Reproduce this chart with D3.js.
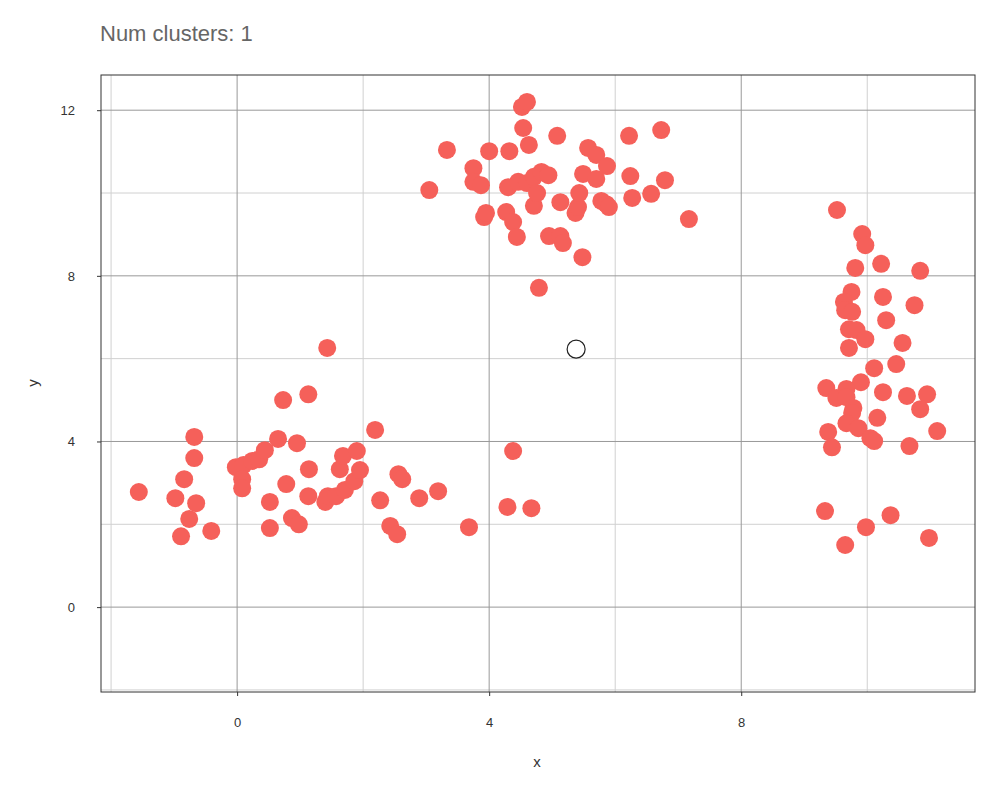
<!DOCTYPE html>
<html><head><meta charset="utf-8">
<script src="https://cdn.jsdelivr.net/npm/d3@7"></script>
<style>body{margin:0;background:#fff}</style>
</head><body>
<script>
var xs = [-1.56,-0.98,-0.84,-0.68,-0.68,-0.65,-0.76,-0.89,-0.41,-0.02,0.10,0.08,0.08,0.24,0.35,0.44,0.65,0.73,0.52,0.52,0.78,0.87,0.95,0.98,1.13,1.14,1.13,1.43,1.40,1.44,1.57,1.63,1.68,1.71,1.86,1.90,1.95,2.19,2.27,2.43,2.54,2.56,2.62,2.89,3.19,3.68,4.29,4.38,4.67,
 3.05,3.33,3.75,3.75,3.87,3.92,3.95,4.00,4.27,4.30,4.32,4.38,4.44,4.46,4.52,4.60,4.54,4.63,4.60,4.71,4.71,4.79,4.76,4.83,4.94,4.95,5.08,5.13,5.13,5.17,5.37,5.41,5.43,5.49,5.48,5.57,5.70,5.70,5.78,5.87,5.86,5.90,6.22,6.24,6.27,6.57,6.73,6.79,7.17,
 9.52,9.92,9.97,10.22,9.81,10.84,9.75,9.63,10.25,10.75,9.65,9.76,10.30,9.71,9.83,9.97,9.71,10.56,10.46,10.11,9.90,9.35,10.25,10.63,10.95,9.51,9.67,9.67,9.78,9.76,10.84,10.16,9.67,9.86,9.38,11.11,10.05,10.11,10.67,9.44,9.33,10.37,9.98,10.98,9.65];
var ys = [2.78,2.63,3.09,4.11,3.60,2.51,2.13,1.71,1.84,3.38,3.43,3.09,2.87,3.53,3.57,3.79,4.06,5.00,2.54,1.91,2.97,2.15,3.96,2.00,5.14,3.33,2.68,6.26,2.54,2.68,2.68,3.33,3.65,2.83,3.04,3.77,3.31,4.28,2.58,1.96,1.76,3.21,3.09,2.63,2.80,1.93,2.42,3.77,2.39,
 10.07,11.04,10.60,10.27,10.19,9.42,9.52,11.01,9.54,10.14,11.01,9.30,8.94,10.27,12.08,12.20,11.57,11.16,10.24,10.39,9.69,7.71,10.00,10.51,10.43,8.96,11.38,9.78,8.96,8.79,9.52,9.66,10.00,10.46,8.45,11.09,10.92,10.34,9.81,10.65,9.73,9.66,11.38,10.41,9.88,9.98,11.52,10.31,9.37,
 9.59,9.01,8.74,8.29,8.19,8.12,7.61,7.37,7.49,7.29,7.17,7.13,6.93,6.71,6.69,6.47,6.26,6.38,5.87,5.77,5.43,5.29,5.19,5.10,5.14,5.05,5.27,5.07,4.81,4.69,4.78,4.57,4.44,4.32,4.23,4.25,4.08,4.01,3.89,3.86,2.32,2.22,1.93,1.67,1.50];
var centerX = [5.38], centerY = [6.23];
var majorTicks = [0,4,8,12], minorX = [-2,2,6,10], minorY = [-2,2,6,10];

var svg = d3.select("body").append("svg").attr("width",1000).attr("height",800);
var L=101,R=975,T=75,B=692;
var x = d3.scaleLinear().domain([-2.16,11.71]).range([L,R]);
var y = d3.scaleLinear().domain([-2.05,12.85]).range([B,T]);

svg.append("text").attr("x",100).attr("y",41).text("Num clusters: 1")
  .attr("font-family","Liberation Sans, Arial, sans-serif").attr("font-size","22px").attr("fill","#666");

var g = svg.append("g");
g.selectAll(".mx").data(minorX).enter().append("line")
  .attr("x1",d=>x(d)).attr("x2",d=>x(d)).attr("y1",T).attr("y2",B).attr("stroke","#d0d0d0");
g.selectAll(".my").data(minorY).enter().append("line")
  .attr("y1",d=>y(d)).attr("y2",d=>y(d)).attr("x1",L).attr("x2",R).attr("stroke","#d0d0d0");
g.selectAll(".Mx").data(majorTicks.filter(d=>d<12)).enter().append("line")
  .attr("x1",d=>x(d)).attr("x2",d=>x(d)).attr("y1",T).attr("y2",B).attr("stroke","#999");
g.selectAll(".My").data(majorTicks).enter().append("line")
  .attr("y1",d=>y(d)).attr("y2",d=>y(d)).attr("x1",L).attr("x2",R).attr("stroke","#999");
g.append("rect").attr("x",L).attr("y",T).attr("width",R-L).attr("height",B-T)
  .attr("fill","none").attr("stroke","#333");

var xa = svg.append("g").attr("transform","translate(0,"+B+")")
  .call(d3.axisBottom(x).tickValues([0,4,8]).tickSize(4).tickPadding(22));
var ya = svg.append("g").attr("transform","translate("+L+",0)")
  .call(d3.axisLeft(y).tickValues(majorTicks).tickSize(4).tickPadding(22));
[xa,ya].forEach(a=>{a.select(".domain").remove();
  a.selectAll("text").attr("font-family","Liberation Sans, Arial, sans-serif").attr("font-size","13px").attr("fill","#333");
  a.selectAll("line").attr("stroke","#333");});

svg.append("text").attr("x",537).attr("y",767).attr("text-anchor","middle").text("x")
  .attr("font-family","Liberation Sans, Arial, sans-serif").attr("font-size","15px").attr("fill","#333");
svg.append("text").attr("transform","translate(38,383) rotate(-90)").attr("text-anchor","middle").text("y")
  .attr("font-family","Liberation Sans, Arial, sans-serif").attr("font-size","15px").attr("fill","#333");

svg.selectAll(".pt").data(xs).enter().append("circle")
  .attr("cx",d=>x(d)).attr("cy",(d,i)=>y(ys[i])).attr("r",9).attr("fill","#F5605A");
svg.selectAll(".ct").data(centerX).enter().append("circle")
  .attr("cx",d=>x(d)).attr("cy",(d,i)=>y(centerY[i])).attr("r",9)
  .attr("fill","none").attr("stroke","#222").attr("stroke-width",1.2);
</script>
</body></html>
